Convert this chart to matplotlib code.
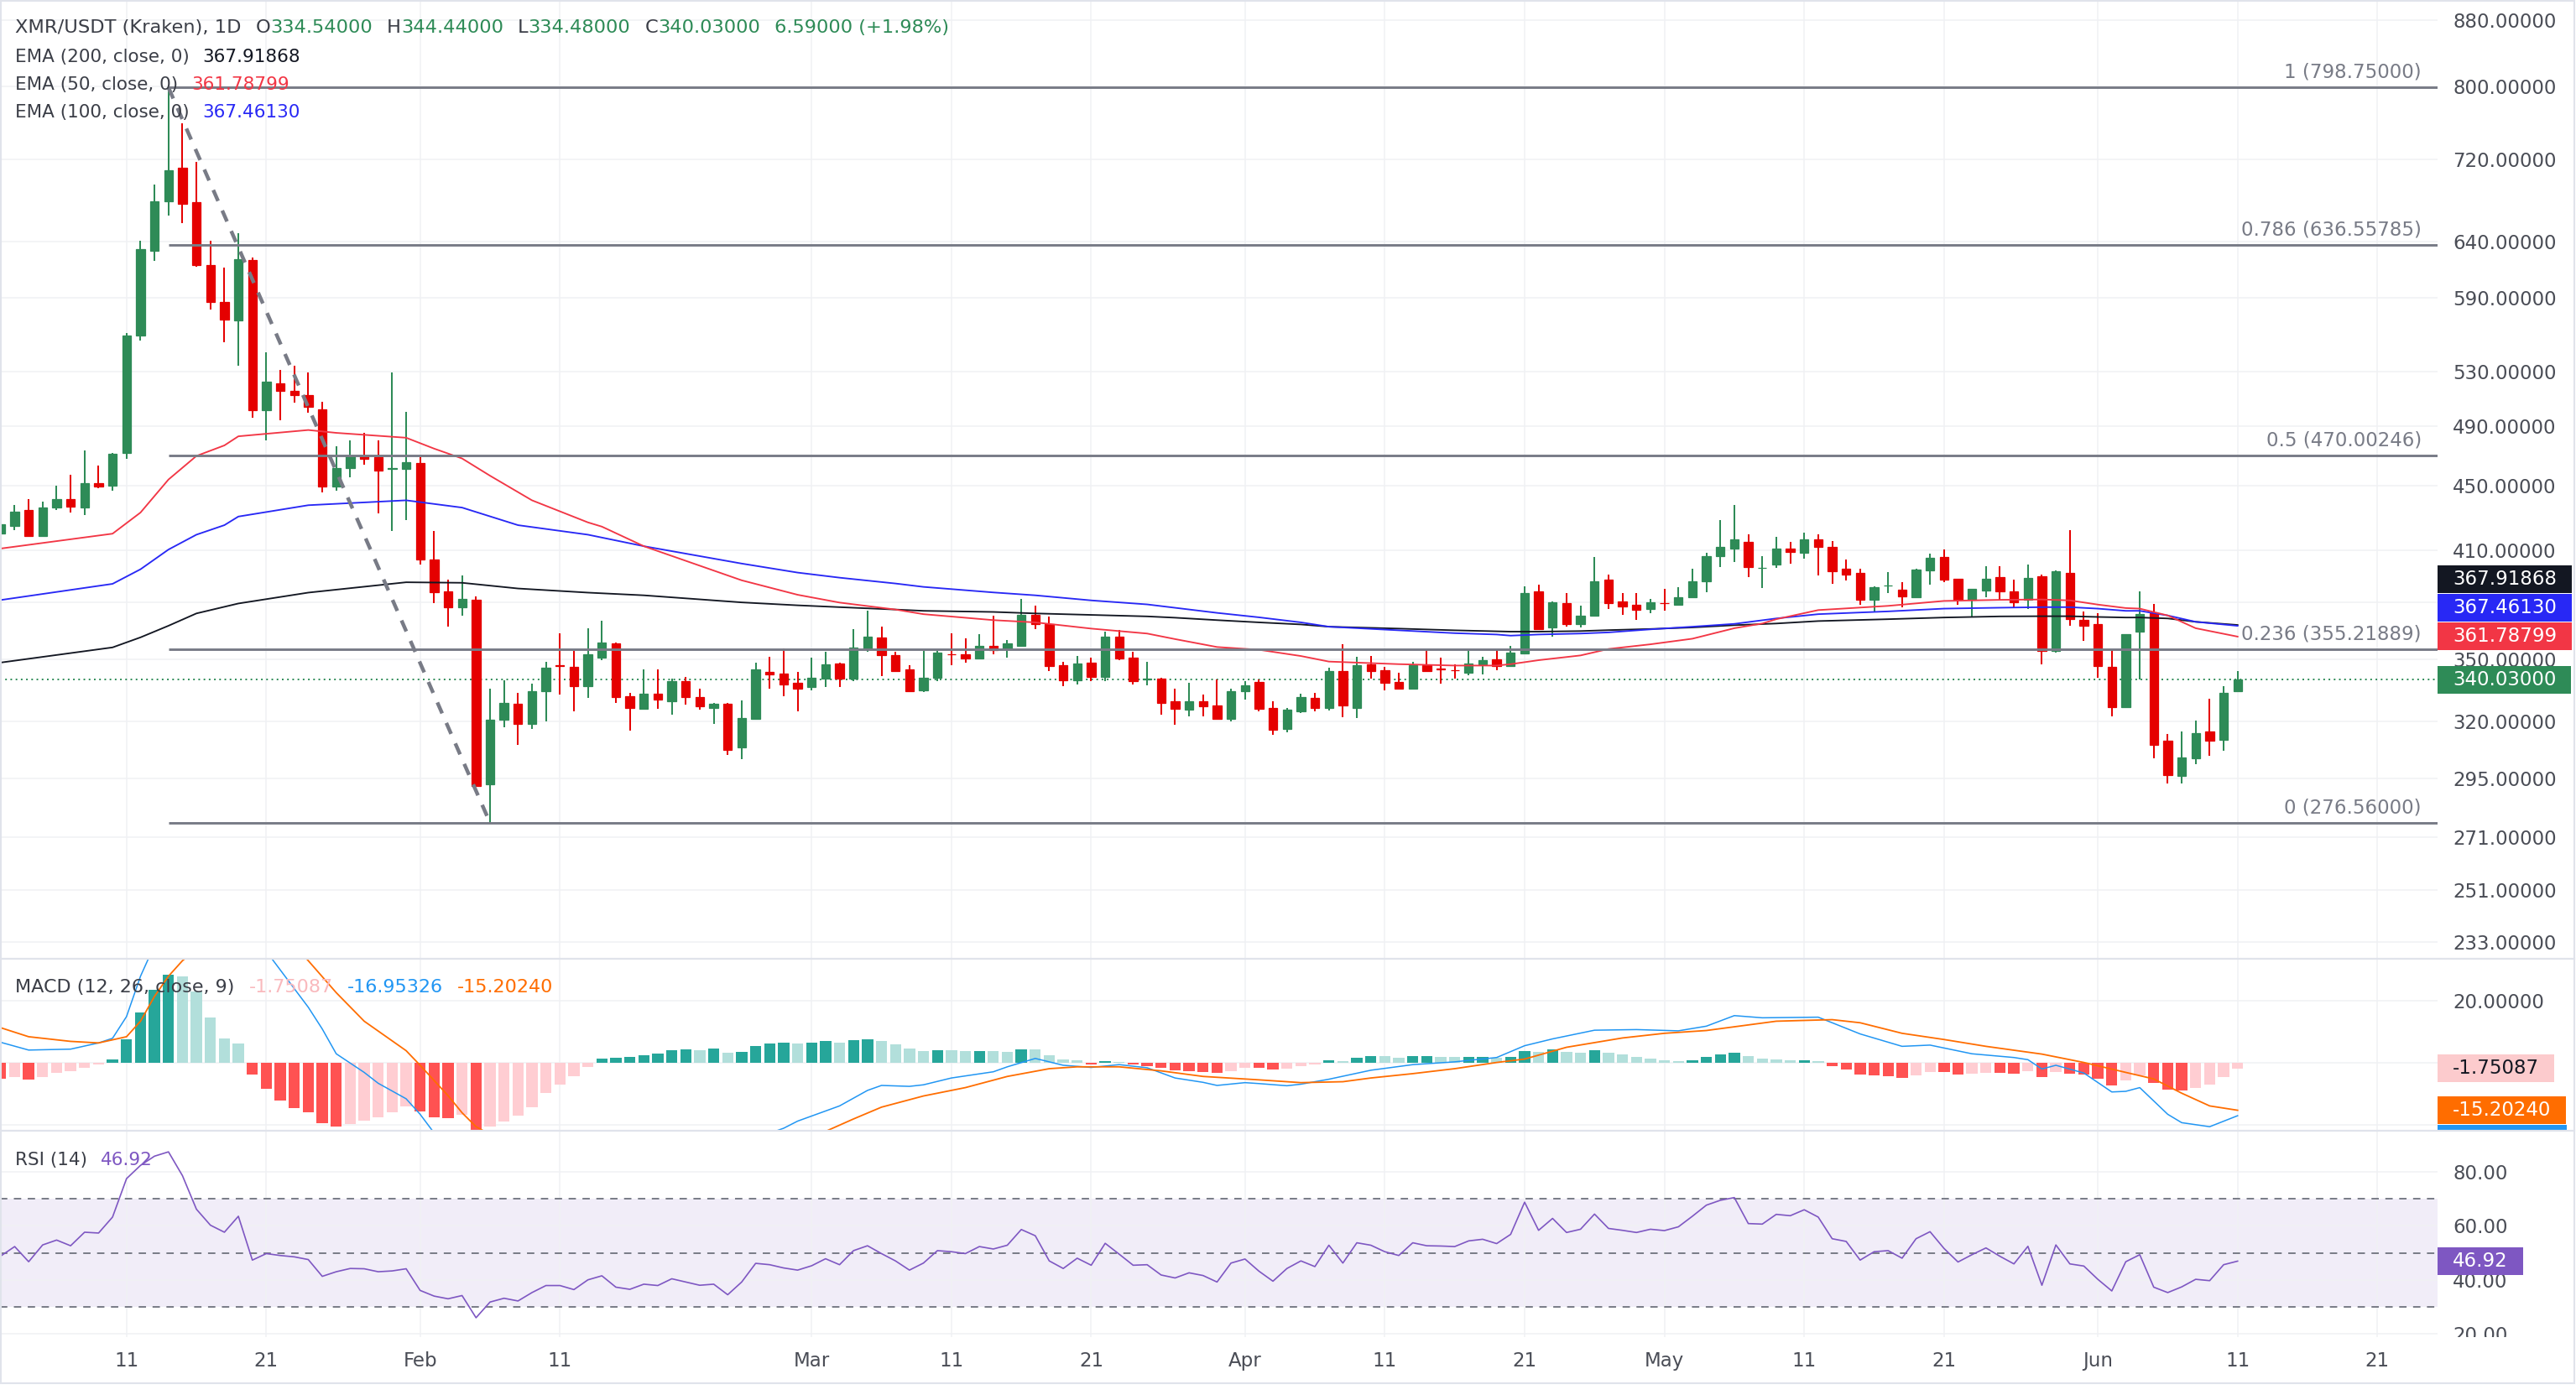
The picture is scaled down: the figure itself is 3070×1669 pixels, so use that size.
import numpy as np
import pandas as pd
import matplotlib
matplotlib.use("Agg")
import matplotlib.pyplot as plt
from matplotlib.patches import Rectangle
from matplotlib.lines import Line2D
from matplotlib.ticker import FixedLocator, FuncFormatter, NullLocator

plt.rcParams['font.family'] = ['DejaVu Sans']

# ---------------------------------------------------------------- data
symbol_title = "XMR/USDT (Kraken), 1D"
year_start = "2026-01-01"
first_day = "2026-01-02"

open_ = [419.7, 424.2, 434.2, 418.2, 435.8, 441.4, 435.8, 451.5, 449.9, 471.8,
         558.7, 630.8, 678.2, 711.3, 676.8, 618.4, 586.0, 570.7, 622.8, 501.5,
         521.6, 516.0, 512.4, 502.3, 449.3, 461.2, 469.5, 468.8, 460.6, 460.9,
         464.6, 404.5, 386.3, 377.6, 381.6, 292.4, 321.1, 328.5, 318.9, 334.5,
         347.2, 346.3, 336.7, 351.1, 358.1, 332.0, 326.0, 333.0, 329.6, 339.2,
         331.7, 326.5, 328.3, 308.5, 321.2, 344.0, 342.8, 338.3, 336.5, 340.7,
         348.1, 340.7, 355.4, 361.4, 352.2, 344.9, 334.7, 341.0, 352.8, 352.8,
         350.4, 356.8, 355.2, 356.8, 373.3, 368.2, 347.0, 339.6, 348.6, 341.5,
         361.9, 351.1, 340.2, 340.7, 329.6, 325.6, 329.7, 327.7, 321.5, 334.3,
         338.7, 326.3, 316.8, 324.7, 331.3, 326.6, 344.1, 326.4, 347.6, 344.5,
         338.7, 335.6, 347.2, 345.5, 344.7, 343.3, 347.4, 350.0, 346.6, 353.3,
         386.2, 366.6, 379.7, 368.5, 373.0, 392.6, 380.4, 378.8, 376.7, 379.8,
         378.9, 382.7, 391.6, 406.2, 410.9, 415.0, 399.3, 401.2, 410.6, 408.1,
         416.4, 411.9, 398.9, 396.8, 381.7, 389.4, 387.1, 383.0, 398.1, 405.7,
         393.2, 381.5, 386.7, 394.1, 386.2, 381.7, 394.5, 354.3, 396.5, 370.7,
         368.4, 346.3, 326.9, 364.4, 374.1, 311.3, 296.1, 303.7, 315.7, 311.6,
         334.54]
high = [426.0, 437.3, 441.1, 439.8, 449.9, 457.0, 473.5, 462.9, 471.8, 560.7,
        640.7, 694.8, 798.75, 758.2, 717.3, 640.7, 616.2, 647.6, 625.0, 545.1,
        531.6, 534.6, 529.7, 507.8, 476.2, 480.3, 485.7, 480.3, 529.7, 500.5,
        468.8, 421.5, 392.6, 395.1, 383.5, 335.7, 339.9, 333.6, 338.0, 349.0,
        363.3, 354.6, 366.2, 370.0, 358.6, 333.5, 344.9, 344.9, 340.5, 341.4,
        335.6, 328.7, 328.7, 330.0, 348.6, 351.5, 355.8, 344.0, 351.1, 353.9,
        348.6, 365.9, 375.5, 366.9, 353.9, 347.2, 354.6, 354.3, 363.6, 360.7,
        362.9, 373.0, 360.2, 382.0, 378.5, 372.6, 348.8, 351.8, 351.1, 364.4,
        365.4, 353.9, 349.0, 341.1, 335.6, 338.3, 332.6, 340.3, 335.6, 339.4,
        340.0, 329.7, 326.6, 333.0, 333.7, 346.0, 358.0, 351.5, 351.8, 346.3,
        343.5, 349.0, 355.4, 351.1, 347.7, 355.4, 351.5, 355.4, 356.8, 389.0,
        389.8, 380.4, 385.1, 378.5, 405.7, 395.6, 385.1, 385.1, 382.0, 387.4,
        388.5, 398.9, 408.5, 428.2, 437.5, 419.3, 406.5, 417.6, 414.7, 420.1,
        419.3, 415.5, 404.6, 399.2, 389.0, 397.3, 391.4, 399.2, 407.7, 410.1,
        393.2, 387.8, 400.3, 400.3, 392.6, 401.3, 395.6, 397.9, 422.0, 375.2,
        374.1, 355.4, 363.0, 386.2, 379.2, 314.2, 315.5, 320.6, 330.6, 337.0,
        344.44]
low = [408.8, 422.1, 417.6, 417.6, 434.2, 432.7, 431.1, 448.3, 446.7, 467.8,
       554.7, 622.4, 663.9, 656.8, 617.1, 579.8, 553.5, 534.6, 496.2, 480.3,
       494.2, 507.1, 499.8, 445.2, 446.7, 455.4, 463.5, 432.0, 421.2, 428.1,
       401.6, 379.5, 367.0, 372.8, 291.4, 276.56, 317.3, 309.3, 316.6, 320.0,
       332.9, 324.7, 331.3, 349.7, 328.7, 316.0, 326.0, 326.0, 323.4, 328.0,
       325.6, 318.9, 305.2, 303.1, 321.2, 335.6, 332.0, 325.0, 335.0, 336.5,
       336.5, 339.4, 353.9, 341.9, 344.2, 334.4, 334.0, 339.4, 347.0, 348.3,
       350.4, 352.8, 350.8, 356.8, 365.8, 344.2, 336.7, 337.6, 339.4, 339.1,
       349.7, 337.6, 337.3, 323.4, 318.6, 322.4, 322.5, 321.5, 320.2, 330.4,
       325.0, 314.1, 315.1, 324.1, 324.7, 325.1, 322.1, 321.7, 340.4, 334.9,
       335.6, 335.6, 343.8, 338.0, 340.4, 342.2, 342.6, 344.5, 346.3, 352.5,
       365.9, 361.6, 367.2, 366.6, 373.0, 376.7, 373.4, 370.5, 374.4, 375.6,
       378.9, 382.7, 385.6, 400.0, 403.0, 394.0, 387.9, 399.5, 402.0, 404.9,
       395.2, 390.6, 392.4, 378.9, 375.2, 385.1, 377.2, 382.7, 390.1, 391.4,
       378.9, 372.5, 383.0, 380.9, 377.2, 376.7, 347.4, 353.6, 367.7, 359.4,
       341.1, 322.4, 326.9, 340.3, 303.4, 292.9, 292.9, 300.9, 304.8, 307.0,
       334.48]
close = [425.2, 433.3, 418.2, 435.8, 441.4, 436.4, 451.5, 449.3, 471.1, 558.7,
         632.6, 678.2, 708.7, 675.8, 618.0, 586.4, 571.5, 623.7, 501.5, 522.3,
         515.7, 512.4, 504.1, 449.3, 461.2, 469.5, 467.8, 459.6, 461.2, 465.2,
         404.5, 385.5, 377.6, 382.1, 291.8, 321.1, 328.8, 318.9, 334.5, 346.0,
         346.6, 336.7, 352.5, 358.6, 331.6, 326.3, 333.3, 330.4, 339.4, 331.6,
         327.0, 328.3, 307.4, 321.8, 344.9, 342.6, 337.6, 335.6, 341.0, 347.7,
         340.7, 356.1, 361.9, 352.1, 344.2, 334.4, 341.0, 353.6, 352.6, 350.4,
         357.1, 354.8, 358.3, 373.3, 368.2, 346.6, 339.6, 348.1, 341.2, 361.9,
         350.4, 339.4, 340.5, 328.7, 326.0, 329.7, 327.3, 321.5, 334.2, 337.3,
         326.0, 316.4, 325.7, 331.6, 326.4, 344.1, 327.6, 347.0, 344.2, 338.4,
         335.6, 347.2, 344.2, 345.2, 344.5, 348.1, 349.5, 346.6, 353.7, 385.1,
         365.9, 380.1, 368.5, 373.0, 391.8, 379.7, 377.9, 376.2, 380.1, 379.5,
         382.7, 391.8, 406.2, 411.9, 416.4, 400.0, 399.6, 410.6, 409.0, 416.4,
         411.7, 397.6, 395.7, 381.5, 388.5, 389.7, 383.5, 398.4, 405.2, 392.6,
         381.5, 387.8, 393.2, 386.2, 380.1, 393.7, 354.4, 397.6, 371.2, 367.7,
         346.6, 326.9, 362.9, 373.7, 309.6, 296.4, 304.0, 314.7, 311.5, 333.44,
         340.03]

# EMA lines, read at sample days (day number counted from Jan 1)
ema50_day = [1, 9, 11, 13, 15, 17, 18, 23, 25, 30, 32, 34, 36, 39, 43, 44, 47, 54, 58, 61,
             65, 67, 72, 75, 79, 83, 85, 88, 91, 94, 96, 101, 105, 108, 109, 111, 114, 116, 119, 122,
             125, 127, 128, 131, 136, 140, 144, 147, 149, 151, 153, 154, 156, 158, 161]
ema50_val = [410.8, 419.7, 432.7, 453.8, 469.5, 476.7, 483.0, 487.4, 485.4, 482.0,
             474.5, 467.8, 456.3, 440.4, 426.6, 424.0, 412.2, 392.4, 384.3, 380.0,
             376.2, 373.7, 370.5, 369.3, 366.0, 363.4, 360.5, 356.4, 355.0, 351.8,
             349.0, 347.7, 347.0, 347.0, 347.7, 349.7, 352.1, 355.4, 357.8, 360.7,
             366.2, 368.7, 371.0, 375.9, 378.2, 380.9, 381.5, 381.7, 381.2, 378.9,
             377.0, 376.7, 373.0, 366.2, 361.78799]
ema100_day = [1, 9, 11, 13, 15, 17, 18, 23, 30, 34, 38, 43, 47, 54, 58, 61, 65, 67, 72, 75,
              79, 83, 88, 91, 94, 96, 101, 105, 108, 109, 111, 114, 116, 119, 122, 125, 128, 131, 136, 140,
              144, 147, 149, 151, 153, 154, 156, 158, 161]
ema100_val = [381.4, 390.4, 398.7, 410.2, 419.1, 424.9, 430.2, 437.3, 440.4, 435.8,
              424.9, 419.1, 412.2, 402.0, 396.8, 393.9, 390.6, 388.7, 385.6, 384.0,
              381.2, 379.0, 374.4, 372.0, 369.3, 367.0, 365.1, 363.6, 362.9, 362.3,
              362.9, 363.4, 364.0, 365.6, 367.0, 368.5, 371.4, 373.7, 375.2, 376.7,
              377.2, 377.5, 377.5, 376.7, 375.5, 375.5, 373.0, 369.6, 367.4613]
ema200_day = [1, 9, 11, 13, 15, 18, 23, 30, 34, 38, 43, 47, 54, 58, 61, 65, 67, 72, 75, 79,
              83, 85, 88, 91, 94, 96, 101, 105, 109, 111, 114, 116, 119, 122, 125, 128, 131, 136, 140, 144,
              147, 149, 151, 153, 154, 156, 158, 161]
ema200_val = [348.5, 356.2, 361.4, 367.5, 374.1, 379.5, 385.5, 391.3, 391.0, 387.8,
              385.5, 384.0, 380.1, 378.5, 377.5, 376.2, 375.5, 374.9, 374.1, 373.3,
              372.5, 371.8, 370.5, 369.3, 368.2, 367.0, 366.0, 365.1, 364.4, 364.4,
              364.7, 365.2, 365.8, 366.6, 367.8, 368.7, 370.0, 371.0, 371.9, 372.5,
              372.6, 372.6, 372.2, 371.9, 371.9, 371.4, 369.6, 367.91868]

# MACD (12, 26, close, 9)
macd_day = [1, 3, 6, 8, 9, 10, 11, 13, 16, 19, 21, 23, 24, 25, 27, 28, 30, 31, 32, 36,
            44, 52, 57, 58, 61, 63, 64, 66, 67, 69, 72, 73, 75, 77, 79, 81, 83, 85, 87, 88,
            90, 91, 93, 94, 96, 99, 102, 105, 108, 110, 112, 115, 118, 121, 123, 125, 127, 131, 134, 137,
            139, 142, 145, 146, 147, 148, 150, 152, 153, 154, 156, 157, 159, 161]
macd_val = [6.7, 4.2, 4.5, 6.5, 8.0, 15.0, 28.0, 48.0, 55.0, 42.0,
            30.0, 18.0, 11.0, 3.0, -3.0, -6.5, -11.5, -16.5, -22.5, -40.0,
            -38.0, -29.0, -21.0, -18.7, -13.8, -8.8, -7.2, -7.5, -7.0, -4.8,
            -2.8, -1.2, 1.5, -0.7, -1.4, -0.5, -1.5, -4.8, -6.2, -7.2,
            -6.3, -6.6, -7.3, -6.8, -5.2, -2.3, -0.5, 0.4, 1.8, 5.6,
            7.8, 10.6, 10.8, 10.4, 11.9, 15.3, 14.6, 14.8, 9.4, 5.4,
            5.8, 3.0, 1.8, 1.1, -1.9, -0.7, -3.2, -9.3, -9.1, -7.9,
            -16.5, -19.2, -20.5, -16.95326]
signal_day = [1, 3, 6, 8, 10, 11, 12, 13, 14, 17, 20, 22, 23, 25, 27, 30, 31, 33, 34, 35,
              36, 40, 48, 55, 60, 62, 64, 67, 70, 73, 76, 78, 81, 84, 87, 91, 94, 97, 99, 102,
              105, 108, 110, 113, 117, 120, 123, 126, 128, 132, 134, 137, 140, 143, 147, 150, 153, 155, 157, 159,
              161]
signal_val = [11.4, 8.5, 7.0, 6.5, 8.5, 13.5, 21.5, 28.0, 33.0, 44.0,
              46.0, 38.0, 33.0, 22.7, 13.5, 4.0, -0.7, -10.5, -16.0, -20.5,
              -23.0, -33.0, -33.0, -26.0, -22.0, -18.0, -14.2, -10.6, -7.9, -4.3,
              -1.8, -1.2, -1.2, -2.5, -4.3, -5.4, -6.3, -6.0, -4.8, -3.4,
              -1.8, 0.2, 1.3, 5.1, 8.1, 9.6, 10.5, 12.3, 13.5, 14.0,
              13.0, 9.6, 7.6, 5.4, 2.9, 0.2, -3.0, -5.1, -9.7, -13.8,
              -15.2024]
macd_hist = [-4.95, -4.59, -5.23, -4.50, -3.15, -2.70, -1.44, -0.54, 1.26, 7.57,
             16.40, 23.60, 28.56, 27.93, 23.15, 14.77, 8.02, 6.31, -3.60, -8.38,
             -11.98, -14.41, -15.77, -19.46, -20.54, -19.64, -18.56, -17.39, -15.86, -14.05,
             -15.59, -17.39, -17.66, -16.76, -21.44, -20.54, -18.74, -16.94, -14.23, -9.55,
             -6.85, -4.14, -1.17, 1.35, 1.71, 1.98, 2.61, 3.06, 4.05, 4.41,
             4.23, 4.68, 3.33, 3.60, 5.41, 6.22, 6.49, 6.40, 6.58, 7.12,
             6.49, 7.39, 7.66, 7.12, 6.04, 4.68, 3.78, 4.14, 4.05, 3.87,
             3.96, 3.78, 3.60, 4.41, 4.32, 2.61, 1.26, 0.81, -0.54, 0.63,
             0.36, -0.54, -0.90, -1.44, -2.34, -2.70, -2.97, -3.24, -2.52, -1.44,
             -1.62, -2.07, -1.80, -0.90, -0.54, 0.90, 0.63, 1.71, 2.25, 2.16,
             1.71, 2.25, 2.34, 1.98, 1.89, 1.98, 2.07, 1.71, 1.98, 3.78,
             3.60, 4.41, 3.60, 3.33, 4.14, 3.33, 2.79, 1.98, 1.35, 0.90,
             0.63, 0.90, 1.98, 2.79, 3.33, 2.25, 1.44, 1.26, 0.90, 0.99,
             0.63, -0.90, -2.07, -3.60, -4.05, -4.32, -4.77, -3.87, -2.79, -2.88,
             -3.60, -3.51, -3.15, -3.24, -3.42, -2.52, -4.50, -2.79, -3.42, -3.60,
             -4.95, -7.21, -5.50, -3.87, -6.40, -8.56, -8.83, -7.93, -6.94, -4.50,
             -1.75087]

# RSI (14)
rsi = [48.8, 52.3, 46.7, 52.9, 54.7, 52.6, 57.6, 57.3, 63.2, 77.4,
       82.3, 85.7, 87.3, 78.5, 66.1, 60.2, 57.6, 63.5, 47.3, 49.7,
       49.0, 48.5, 47.5, 41.3, 43.0, 44.2, 44.1, 43.0, 43.3, 44.1,
       36.1, 34.0, 33.0, 34.2, 26.0, 31.8, 33.2, 32.2, 35.3, 37.9,
       37.9, 36.4, 40.0, 41.5, 37.3, 36.5, 38.4, 37.9, 40.4, 39.2,
       38.0, 38.4, 34.5, 39.2, 46.1, 45.6, 44.4, 43.6, 45.2, 47.8,
       45.6, 50.8, 52.6, 49.7, 47.0, 43.6, 46.2, 50.8, 50.4, 49.7,
       52.3, 51.4, 52.8, 58.6, 56.3, 47.0, 44.2, 48.0, 45.4, 53.5,
       49.5, 45.4, 45.6, 41.8, 40.7, 42.6, 41.6, 39.2, 46.2, 47.7,
       43.2, 39.5, 44.2, 47.0, 44.9, 52.8, 46.2, 53.7, 52.8, 50.4,
       49.0, 53.7, 52.6, 52.5, 52.3, 54.4, 55.0, 53.4, 56.8, 68.7,
       58.3, 62.7, 57.5, 58.7, 64.3, 59.0, 58.3, 57.5, 58.7, 58.2,
       59.6, 63.5, 67.6, 69.4, 70.4, 60.8, 60.6, 64.2, 63.7, 65.9,
       63.2, 55.2, 54.2, 47.3, 50.4, 50.8, 48.0, 55.2, 57.8, 51.6,
       46.6, 49.3, 51.8, 48.7, 45.9, 52.4, 38.0, 52.9, 45.9, 45.1,
       40.2, 35.9, 46.7, 49.3, 37.3, 35.3, 37.4, 40.2, 39.7, 45.6,
       46.92]

# Fibonacci retracement (log) drawn from the Jan 14 high to the Feb 6 low
fib_ratio_labels = ["1", "0.786", "0.5", "0.236", "0"]
fib_levels = [798.75, 636.55785, 470.00246, 355.21889, 276.56]
swing_dates = ["2026-01-14", "2026-02-06"]
swing_prices = [798.75, 276.56]

price_ticks = [880, 800, 720, 640, 590, 530, 490, 450, 410, 380, 350, 320, 295, 271, 251, 233]
price_ticks_covered = [380]          # label hidden behind the value boxes
macd_ticks = [20, 0, -20]
macd_ticks_labelled = [20]
rsi_ticks = [80, 60, 40, 20]
rsi_bands = [70, 50, 30]
date_ticks = ["2026-01-11", "2026-01-21", "2026-02-01", "2026-02-11", "2026-03-01", "2026-03-11",
              "2026-03-21", "2026-04-01", "2026-04-11", "2026-04-21", "2026-05-01", "2026-05-11",
              "2026-05-21", "2026-06-01", "2026-06-11", "2026-06-21"]
date_tick_labels = ["11", "21", "Feb", "11", "Mar", "11", "21", "Apr", "11", "21", "May", "11",
                    "21", "Jun", "11", "21"]

# ---------------------------------------------------------------- style
W, H, DPI = 3070, 1669, 100
PR = 2905                      # right edge of the panes (px)
Y_TOP, Y_MACD, Y_RSI, Y_BOT, Y_FRAME = 0.0, 1142.7, 1348.0, 1594.0, 1649.0
FRAME_R = 3068
BOX_H = 33

GREEN = '#2e8b57'
RED = '#e50000'
EMA50_C = '#f23645'
EMA100_C = '#2828f5'
EMA200_C = '#131722'
FIB_C = '#787b86'
GRID = '#f0f1f4'
BORDER = '#e0e3eb'
TXT = '#4a4d56'
DARK = '#3b3e47'
MACD_C = '#2196f3'
SIG_C = '#ff6d00'
RSI_C = '#7e57c2'
H_UP, H_UP_L, H_DN, H_DN_L = '#26a69a', '#b2dfdb', '#ff5252', '#ffcdd2'
FS_AX = 16.5
FS_LEG = 15.5

fig = plt.figure(figsize=(W / DPI, H / DPI), dpi=DPI)
fig.patch.set_facecolor('white')
renderer = fig.canvas.get_renderer()


def rect(x0, y0, x1, y1):
    return [x0 / W, 1 - y1 / H, (x1 - x0) / W, (y1 - y0) / H]


ax_p = fig.add_axes(rect(0, Y_TOP, PR, Y_MACD))
ax_m = fig.add_axes(rect(0, Y_MACD, PR, Y_RSI), sharex=ax_p)
ax_r = fig.add_axes(rect(0, Y_RSI, PR, Y_BOT), sharex=ax_p)

t0 = pd.Timestamp(year_start)
dates = pd.date_range(first_day, periods=len(close), freq='D')
x = np.asarray((dates - t0).days, dtype=float)
tick_x = np.asarray((pd.to_datetime(date_ticks) - t0).days, dtype=float)
swing_x = np.asarray((pd.to_datetime(swing_dates) - t0).days, dtype=float)

for ax in (ax_p, ax_m, ax_r):
    ax.set_facecolor('white')
    for s in ax.spines.values():
        s.set_visible(False)
    ax.yaxis.tick_right()
    ax.tick_params(axis='both', which='both', length=0)
    ax.tick_params(axis='y', labelsize=FS_AX, labelcolor=TXT, pad=13)
    ax.set_axisbelow(True)

ax_p.set_xlim(0.95, 175.3)
ax_p.xaxis.set_major_locator(FixedLocator(tick_x))
ax_p.xaxis.set_major_formatter(FuncFormatter(
    lambda v, pos: date_tick_labels[int(np.argmin(np.abs(tick_x - v)))]))
ax_p.tick_params(axis='x', labelbottom=False)
ax_m.tick_params(axis='x', labelbottom=False)
ax_r.tick_params(axis='x', labelbottom=True, labelsize=FS_AX, labelcolor=TXT, pad=12)

# ---------------- price pane
ax_p.set_yscale('log')
ax_p.set_ylim(227.4, 906.3)
ax_p.yaxis.set_major_locator(FixedLocator(price_ticks))
ax_p.yaxis.set_major_formatter(FuncFormatter(
    lambda v, pos: "" if any(abs(v - t) < 1e-6 for t in price_ticks_covered) else f"{v:.5f}"))
ax_p.yaxis.set_minor_locator(NullLocator())
ax_p.grid(True, which='major', color=GRID, lw=1.1)

o = np.array(open_); hi = np.array(high); lo = np.array(low); c = np.array(close)
col = np.where(c >= o, GREEN, RED)
ax_p.vlines(x, lo, hi, colors=col, linewidth=1.45, zorder=3)
b_lo = np.minimum(o, c); b_hi = np.maximum(o, c)
ax_p.bar(x, b_hi - b_lo, bottom=b_lo, width=0.62, color=col, edgecolor=col,
         linewidth=0.9, zorder=4)

ax_p.plot(ema200_day, ema200_val, color=EMA200_C, lw=1.35, zorder=5)
ax_p.plot(ema100_day, ema100_val, color=EMA100_C, lw=1.35, zorder=5)
ax_p.plot(ema50_day, ema50_val, color=EMA50_C, lw=1.35, zorder=5)

ax_p.axhline(c[-1], color=GREEN, lw=1.4, ls=(0, (1, 2.2)), zorder=2)

xmax = ax_p.get_xlim()[1]
ax_p.hlines(fib_levels, swing_x[0], xmax, colors=FIB_C, lw=2.1, zorder=6)
for lab, lev in zip(fib_ratio_labels, fib_levels):
    ax_p.annotate(f"{lab} ({lev:.5f})", xy=(1, lev), xycoords=('axes fraction', 'data'),
                  xytext=(-13.7, 13), textcoords='offset points', ha='right', va='center',
                  fontsize=FS_AX, color=FIB_C, zorder=7)
ax_p.plot(swing_x, swing_prices, color=FIB_C, lw=3.2, ls=(0, (3.2, 2.8)), zorder=7,
          solid_capstyle='butt', dash_capstyle='butt')

# ---------------- MACD pane
ax_m.set_ylim(-21.8, 33.7)
ax_m.yaxis.set_major_locator(FixedLocator(macd_ticks))
ax_m.yaxis.set_major_formatter(FuncFormatter(
    lambda v, pos: f"{v:.5f}" if any(abs(v - t) < 1e-6 for t in macd_ticks_labelled) else ""))
ax_m.grid(True, which='major', color=GRID, lw=1.1)
hist = np.array(macd_hist)
prev = np.r_[hist[0], hist[:-1]]
hcol = np.where(hist >= 0, np.where(hist > prev, H_UP, H_UP_L),
                np.where(hist <= prev, H_DN, H_DN_L))
ax_m.bar(x, hist, width=0.8, color=hcol, linewidth=0, zorder=2)
ax_m.plot(macd_day, macd_val, color=MACD_C, lw=1.1, zorder=3)
ax_m.plot(signal_day, signal_val, color=SIG_C, lw=1.3, zorder=3)

# ---------------- RSI pane
ax_r.set_ylim(18.85, 95.1)
ax_r.yaxis.set_major_locator(FixedLocator(rsi_ticks))
ax_r.yaxis.set_major_formatter(FuncFormatter(lambda v, pos: f"{v:.2f}"))
ax_r.grid(True, which='major', color=GRID, lw=1.1)
ax_r.axhspan(rsi_bands[2], rsi_bands[0], color=RSI_C, alpha=0.1, lw=0, zorder=0.5)
for lv in rsi_bands:
    ax_r.axhline(lv, color=FIB_C, lw=1.4, ls=(0, (4.5, 4)), zorder=1)
ax_r.plot(x, rsi, color=RSI_C, lw=1.2, zorder=3)


# ---------------- legends
def text_row(x_px, y_px, pieces, size=FS_LEG):
    xx = x_px
    for s, colr, gap in pieces:
        xx += gap
        t = fig.text(xx / W, 1 - y_px / H, s, color=colr, fontsize=size,
                     va='center', ha='left', zorder=20)
        xx += t.get_window_extent(renderer=renderer).width


chg = c[-1] - c[-2]
pct = chg / c[-2] * 100
text_row(18, 33, [(symbol_title, DARK, 0),
                  ("O", DARK, 17), (f"{o[-1]:.5f}", GREEN, 0),
                  ("H", DARK, 17), (f"{hi[-1]:.5f}", GREEN, 0),
                  ("L", DARK, 17), (f"{lo[-1]:.5f}", GREEN, 0),
                  ("C", DARK, 17), (f"{c[-1]:.5f}", GREEN, 0),
                  (f"{chg:.5f} ({pct:+.2f}%)", GREEN, 17)], size=16.2)
text_row(18, 68, [("EMA (200, close, 0)", DARK, 0), (f"{ema200_val[-1]:.5f}", EMA200_C, 16)])
text_row(18, 101, [("EMA (50, close, 0)", DARK, 0), (f"{ema50_val[-1]:.5f}", EMA50_C, 16)])
text_row(18, 134, [("EMA (100, close, 0)", DARK, 0), (f"{ema100_val[-1]:.5f}", EMA100_C, 16)])
text_row(18, 1177, [("MACD (12, 26, close, 9)", DARK, 0), (f"{hist[-1]:.5f}", '#f9b9bd', 17),
                    (f"{macd_val[-1]:.5f}", MACD_C, 17), (f"{signal_val[-1]:.5f}", SIG_C, 17)],
         size=16.0)
text_row(18, 1383, [("RSI (14)", DARK, 0), (f"{rsi[-1]:.2f}", RSI_C, 16)])


# ---------------- price-scale value boxes
def ypx(ax, v):
    return H - ax.transData.transform((ax.get_xlim()[0], v))[1]


def value_box(y_c, text, fc, tc, bot_lim=None):
    t = fig.text((PR + 18) / W, 1 - y_c / H, text, color=tc, fontsize=FS_AX,
                 va='center', ha='left', zorder=12)
    w = t.get_window_extent(renderer=renderer).width + 36
    top, bot = y_c - BOX_H / 2, y_c + BOX_H / 2
    if bot_lim is not None:
        bot = min(bot, bot_lim)
    if bot <= top:
        t.set_visible(False)
        return
    fig.add_artist(Rectangle((PR / W, 1 - bot / H), w / W, (bot - top) / H,
                             transform=fig.transFigure, facecolor=fc, edgecolor='none', zorder=11))
    if bot - top < BOX_H * 0.8:
        t.set_visible(False)


# cover the lower half of the clipped "20.00" label below the RSI pane
fig.add_artist(Rectangle((PR / W, 1 - (Y_FRAME - 1) / H), (FRAME_R - PR) / W, (Y_FRAME - 1 - Y_BOT) / H,
                         transform=fig.transFigure, facecolor='white', edgecolor='none', zorder=10))

price_items = [(c[-1], GREEN, 'white'), (ema50_val[-1], EMA50_C, 'white'),
               (ema100_val[-1], EMA100_C, 'white'), (ema200_val[-1], EMA200_C, 'white')]
price_items.sort(key=lambda it: -ypx(ax_p, it[0]))
prev_y = None
for v, fc, tc in price_items:
    y = ypx(ax_p, v)
    if prev_y is not None:
        y = min(y, prev_y - BOX_H - 1)
    value_box(y, f"{v:.5f}", fc, tc)
    prev_y = y

macd_items = [(hist[-1], '#fccbcd', '#131722'), (signal_val[-1], SIG_C, 'white'),
              (macd_val[-1], MACD_C, 'white')]
macd_items.sort(key=lambda it: ypx(ax_m, it[0]))
prev_y = None
for v, fc, tc in macd_items:
    y = ypx(ax_m, v)
    if prev_y is not None:
        y = max(y, prev_y + BOX_H + 1)
    value_box(y, f"{v:.5f}", fc, tc, bot_lim=Y_RSI)
    prev_y = y

value_box(ypx(ax_r, rsi[-1]), f"{rsi[-1]:.2f}", RSI_C, 'white')

# ---------------- frame and pane separators
fig.add_artist(Rectangle((0.5 / W, 1 - Y_FRAME / H), (FRAME_R - 0.5) / W, (Y_FRAME - 1) / H,
                         transform=fig.transFigure, fill=False, edgecolor=BORDER, lw=1.5, zorder=13))
for yy in (Y_MACD, Y_RSI):
    fig.add_artist(Line2D([0, FRAME_R / W], [1 - yy / H, 1 - yy / H], transform=fig.transFigure,
                          color=BORDER, lw=1.6, zorder=13))

fig.savefig("out.png", dpi=DPI, facecolor='white')
